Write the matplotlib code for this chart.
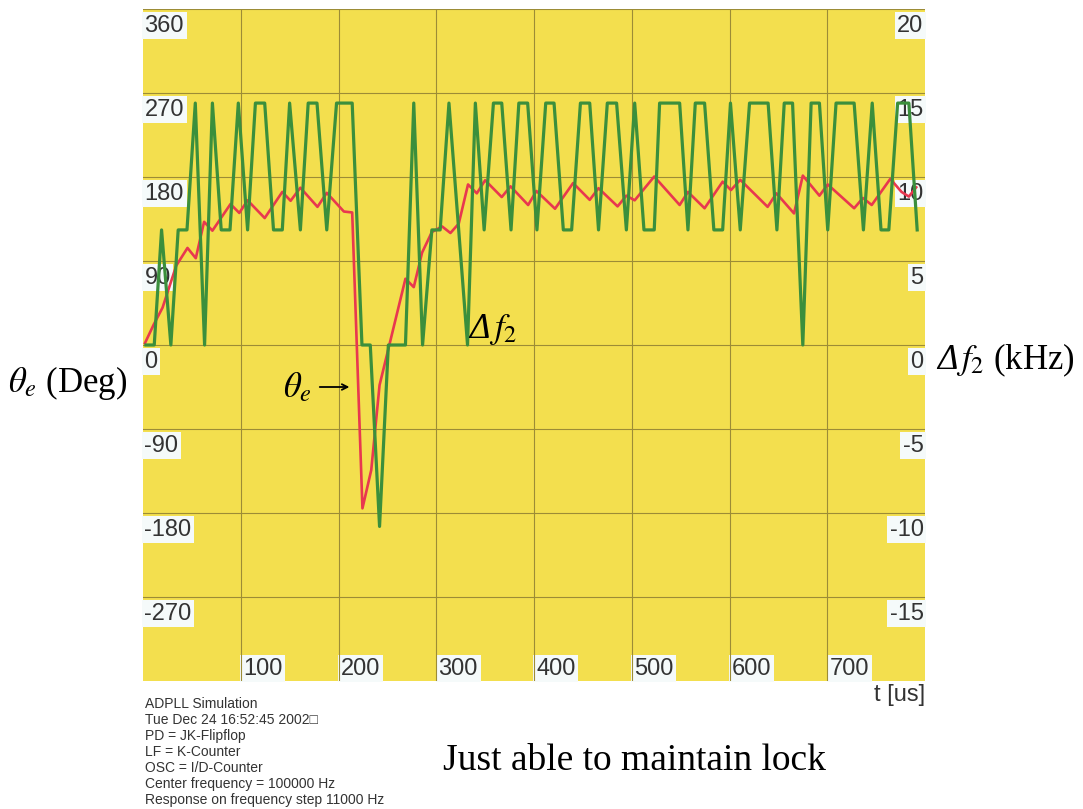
import matplotlib
matplotlib.use("Agg")
import matplotlib.pyplot as plt
from matplotlib.transforms import IdentityTransform

# green: frequency deviation delta f2 (kHz), right axis
green_t = [3, 11.5, 19, 28.5, 36, 45, 53.5, 63, 71, 80, 89, 97.5, 107, 115, 124.5,
           133.5, 142.5, 150, 161, 169, 178, 188, 198, 206, 214, 224, 232.5, 242,
           251, 260, 268.5, 277, 286, 295.5, 304, 313, 332, 340, 349, 358.5, 367,
           376.5, 384.5, 393.5, 403, 412, 420.5, 430, 438.5, 447.5, 457, 466, 475,
           484.5, 494.5, 503, 512.5, 523, 528.5, 539, 549, 557.5, 565, 574.5, 584,
           593, 601, 611, 620.5, 629, 639.5, 648.5, 656, 664.5, 675, 683.5, 692,
           700.5, 709, 718, 727.5, 737, 746, 755, 763, 772, 783.5, 792]
green_khz = [0, 0, 6.85, 0, 6.85, 6.85, 14.4, 0, 14.4, 6.85, 6.85, 14.4, 6.85, 14.4, 14.4,
             6.85, 6.85, 14.4, 6.85, 14.4, 14.4, 6.85, 14.4, 14.4, 14.4, 0, 0, -10.8,
             0, 0, 0, 14.4, 0, 6.85, 6.85, 14.4, 0, 14.4, 6.85, 14.4, 14.4,
             6.85, 14.4, 14.4, 6.85, 14.4, 14.4, 6.85, 6.85, 14.4, 14.4, 6.85, 14.4,
             14.4, 6.85, 14.4, 6.85, 6.85, 14.4, 14.4, 14.4, 6.85, 14.4, 14.4, 6.85,
             6.85, 14.4, 6.85, 14.4, 14.4, 14.4, 6.85, 14.4, 14.4, 0, 14.4, 14.4,
             6.85, 14.4, 14.4, 14.4, 6.85, 14.4, 6.85, 6.85, 14.4, 14.4, 6.85]

# red: phase error theta_e (deg), left axis
red_t = [2, 11, 20, 34, 45.5, 54, 62.5, 71, 89.5, 98.5, 107, 124.5, 142.5, 151, 161,
         178.5, 188, 205.5, 214, 224.5, 233.5, 242, 268.5, 277, 285.5, 295.5, 306,
         314.5, 323, 332.5, 341.5, 350, 367, 376, 394, 402.5, 421.5, 440, 457, 466,
         485.5, 494.5, 503, 523, 549, 557.5, 574.5, 593, 601.5, 611, 639, 648, 666,
         675, 692, 700.5, 727.5, 736.5, 745.5, 764.5, 776, 783.5, 791]
red_deg = [2, 22, 40, 85, 104, 93, 132, 122.5, 151, 141.5, 155, 136, 164, 154.5, 168.5,
           148, 163, 143, 142, -175, -134, -43, 71, 62, 99, 121, 127,
           120, 130, 172, 162.5, 176.5, 158.5, 170, 150, 165, 146, 173.5, 155.5, 168,
           148.5, 160, 155, 180.5, 150, 164, 146.5, 175, 166, 177, 148, 162.5, 141,
           181.5, 160, 172, 146.5, 157.5, 150, 178, 164, 159, 169]

x_ticks = [100, 200, 300, 400, 500, 600, 700]
deg_ticks = [360, 270, 180, 90, 0, -90, -180, -270]
khz_ticks = [20, 15, 10, 5, 0, -5, -10, -15]

info_lines = ["ADPLL Simulation",
              "Tue Dec 24 16:52:45 2002\u25a1",
              "PD = JK-Flipflop",
              "LF = K-Counter",
              "OSC = I/D-Counter",
              "Center frequency = 100000 Hz",
              "Response on frequency step 11000 Hz"]

YELLOW = "#f3df4e"
GRID = "#9c8c36"
GREEN = "#3b8f3c"
RED = "#e8384f"
BOXBG = "#f5fafa"
LABEL = "#333333"
sans = ["Liberation Sans", "DejaVu Sans"]
plt.rcParams["mathtext.fontset"] = "stix"

fig = plt.figure(figsize=(10.83, 8.09), dpi=100, facecolor="white")
ax = fig.add_axes([143 / 1083, 1 - 681 / 809, 782 / 1083, 672 / 809])
ax.set_facecolor(YELLOW)
ax.set_xlim(0, 800)
ax.set_ylim(-360, 360)
ax.set_xticks(x_ticks)
ax.set_yticks(deg_ticks)
ax.tick_params(length=0, labelbottom=False, labelleft=False)
ax.grid(True, color=GRID, lw=0.8)
for s in ax.spines.values():
    s.set_visible(False)

box = dict(boxstyle="square,pad=0.12", fc=BOXBG, ec="none")

# tick labels drawn inside the yellow area, like the original software
for v in deg_ticks:
    ax.annotate(str(v), xy=(0, v), xycoords=ax.get_yaxis_transform(),
                xytext=(1, -4), textcoords="offset points", ha="left", va="top",
                fontsize=17, color=LABEL, family=sans, bbox=box, zorder=1)
for k in khz_ticks:
    ax.annotate(str(k), xy=(1, k * 18), xycoords=ax.get_yaxis_transform(),
                xytext=(-1, -4), textcoords="offset points", ha="right", va="top",
                fontsize=17, color=LABEL, family=sans, bbox=box, zorder=1)
for t in x_ticks:
    ax.annotate(str(t), xy=(t, 0), xycoords=ax.get_xaxis_transform(),
                xytext=(1.5, 1), textcoords="offset points", ha="left", va="bottom",
                fontsize=17, color=LABEL, family=sans, bbox=box, zorder=1)

ax.plot(red_t, red_deg, color=RED, lw=1.9, zorder=3)

ax2 = ax.twinx()
ax2.set_ylim(-20, 20)
ax2.set_yticks([])
for s in ax2.spines.values():
    s.set_visible(False)
ax2.plot(green_t, green_khz, color=GREEN, lw=2.3, zorder=4)

renderer = fig.canvas.get_renderer()


def delta_label(x, y, rest, transform, size):
    """italic Delta (mathtext keeps Greek capitals upright) followed by f_2..."""
    d = fig.text(x, y, "\u0394", transform=transform, fontsize=size,
                 family="Liberation Serif", style="italic", ha="left",
                 va="baseline", zorder=5)
    bb = d.get_window_extent(renderer)
    x0, y0 = transform.transform((x, y))
    fig.text(bb.x1 - 1, y0, rest, transform=IdentityTransform(), fontsize=size,
             family="Liberation Serif", ha="left", va="baseline", zorder=5)


# annotations in the plot
ax.annotate("", xy=(214, -45), xytext=(178, -45),
            arrowprops=dict(arrowstyle="->", color="black", lw=1.3), zorder=5)
ax.text(173, -45, r"$\theta_e$", fontsize=25, ha="right", va="center", zorder=5)
delta_label(334, 7, r"$f_2$", ax.transData, 25)

ax.annotate("t [us]", xy=(1, 0), xycoords="axes fraction", xytext=(0, -2),
            textcoords="offset points", ha="right", va="top", fontsize=17,
            color=LABEL, family=sans)

fig.text(8 / 1083, 1 - 383 / 809, r"$\theta_e$ (Deg)", fontsize=25,
         family="Liberation Serif", ha="left", va="center")
delta_label(937 / 1083, 1 - 369 / 809, r"$f_2$ (kHz)", fig.transFigure, 25)

fig.text(145 / 1083, 1 - 697 / 809, "\n".join(info_lines), fontsize=10,
         family=sans, color=LABEL, ha="left", va="top", linespacing=1.18)
fig.text(443 / 1083, 1 - 770 / 809, "Just able to maintain lock", fontsize=27,
         family="Liberation Serif", ha="left", va="baseline")

fig.savefig("out.png", dpi=100, facecolor="white")
